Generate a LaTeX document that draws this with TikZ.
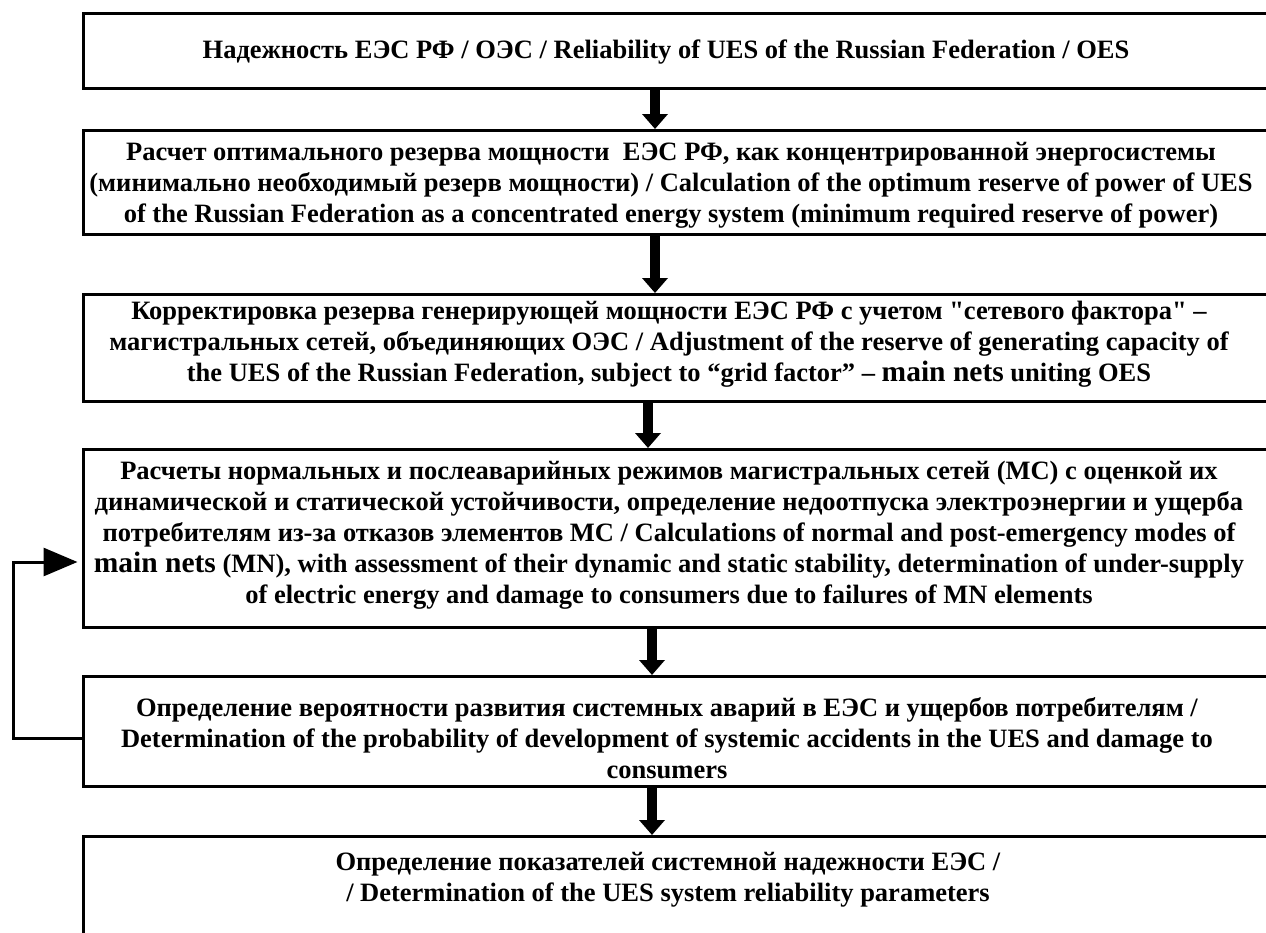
\documentclass[tikz,border=0pt]{standalone}
\usepackage{fontspec}
\setmainfont{Liberation Serif}[Ligatures=TeXOff]
\usetikzlibrary{arrows.meta}
\newcommand{\bignets}[1]{{\fontsize{29.5}{31}\selectfont #1}}
\begin{document}
\begin{tikzpicture}[x=1pt,y=-1pt,
  box/.style={draw, line width=3pt, minimum width=1240pt, anchor=north west, inner sep=0pt},
  txt/.style={align=center, inner sep=0pt, font=\fontsize{26.5}{31}\selectfont\bfseries},
  downarrow/.style={line width=10pt, -{Triangle[length=15pt,width=25pt]}},
  feedback/.style={line width=3pt, -{Triangle[length=34pt,width=28pt]}}]
\clip (0,0) rectangle (1266,932);
\fill[white] (0,0) rectangle (1266,932);
% boxes
\node[box, minimum height=75pt] (b1) at (82,12) {};
\node[box, minimum height=104pt] (b2) at (82,129) {};
\node[box, minimum height=107pt] (b3) at (82,293) {};
\node[box, minimum height=178pt] (b4) at (82,448) {};
\node[box, minimum height=110pt] (b5) at (82,675) {};
\node[box, minimum height=130pt] (b6) at (82,835) {};
% texts
\node[txt] (t1) at (666,52) {Надежность ЕЭС РФ / ОЭС / Reliability of UES of the Russian Federation / OES};
\node[txt] (t2) at (671,185) {Расчет оптимального резерва мощности \ ЕЭС РФ, как концентрированной энергосистемы\\(минимально необходимый резерв мощности) / Calculation of the optimum reserve of power of UES\\of the Russian Federation as a concentrated energy system (minimum required reserve of power)};
\node[txt] (t3) at (669,344) {Корректировка резерва генерирующей мощности ЕЭС РФ с учетом "сетевого фактора" –\\магистральных сетей, объединяющих ОЭС / Adjustment of the reserve of generating capacity of\\the UES of the Russian Federation, subject to “grid factor” – \bignets{main nets} uniting OES};
\node[txt] (t4) at (669,535) {Расчеты нормальных и послеаварийных режимов магистральных сетей (МС) с оценкой их\\динамической и статической устойчивости, определение недоотпуска электроэнергии и ущерба\\потребителям из-за отказов элементов МС / Calculations of normal and post-emergency modes of\\\bignets{main nets} (MN), with assessment of their dynamic and static stability, determination of under-supply\\of electric energy and damage to consumers due to failures of MN elements};
\node[txt] (t5) at (667,738) {Определение вероятности развития системных аварий в ЕЭС и ущербов потребителям /\\Determination of the probability of development of systemic accidents in the UES and damage to\\consumers};
\node[txt] (t6) at (668,880) {Определение показателей системной надежности ЕЭС /\\/ Determination of the UES system reliability parameters};
% arrow x positions
\coordinate (x1) at (655,0);
\coordinate (x2) at (655,0);
\coordinate (x3) at (648,0);
\coordinate (x4) at (652,0);
\coordinate (x5) at (652,0);
\draw[downarrow] (b1.south -| x1) -- (b2.north -| x1);
\draw[downarrow] (b2.south -| x2) -- (b3.north -| x2);
\draw[downarrow] (b3.south -| x3) -- (b4.north -| x3);
\draw[downarrow] (b4.south -| x4) -- (b5.north -| x4);
\draw[downarrow] (b5.south -| x5) -- (b6.north -| x5);
% feedback loop
\coordinate (fbcorner) at (13,738);
\coordinate (fbin) at (0,562);
\draw[feedback, shorten >=4.5pt] (b5.west |- fbcorner) -- (fbcorner) |- (b4.west |- fbin);
\end{tikzpicture}
\end{document}
